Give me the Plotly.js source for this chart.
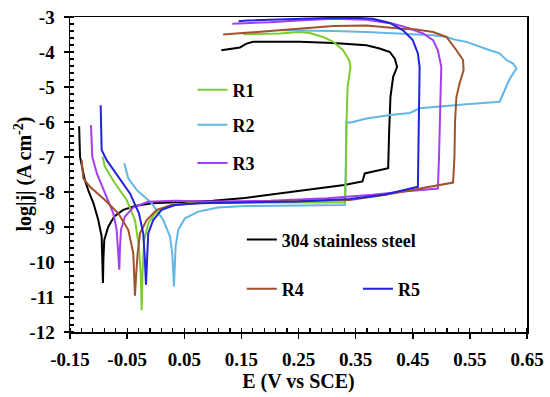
<!DOCTYPE html>
<html>
<head>
<meta charset="utf-8">
<script src="https://cdn.plot.ly/plotly-3.0.1.min.js"></script>
<style>
html,body{margin:0;padding:0;background:#fff;}
#chart{width:550px;height:397px;}
</style>
</head>
<body>
<div id="chart"></div>
<script>
// Series names
const seriesNames = ["304 stainless steel", "R1", "R2", "R3", "R4", "R5"];

// 304 stainless steel
const ssE = [-0.134,-0.1335,-0.1325,-0.128,-0.124,-0.117,-0.109,-0.1005,-0.0946,-0.0935,-0.0923,-0.0915,-0.090,-0.083,-0.0725,-0.0567,-0.036,-0.007,0.034,0.1,0.156,0.21,0.27,0.33,0.362,0.364,0.366,0.385,0.407,0.4086,0.411,0.4157,0.4226,0.4186,0.41,0.392,0.369,0.311,0.252,0.194,0.1707,0.159,0.1474,0.115];
const ssJ = [-6.12,-6.6,-6.99,-7.35,-7.66,-8.0,-8.32,-8.80,-9.27,-9.9,-10.6,-9.9,-9.37,-8.99,-8.70,-8.51,-8.40,-8.32,-8.30,-8.25,-8.17,-8.05,-7.93,-7.80,-7.70,-7.6,-7.47,-7.40,-7.32,-6.3,-5.28,-4.71,-4.43,-4.19,-4.0,-3.90,-3.81,-3.74,-3.71,-3.71,-3.71,-3.76,-3.87,-3.95];

// R1
const r1E = [-0.093,-0.0888,-0.080,-0.0713,-0.0508,-0.0363,-0.0293,-0.026,-0.0246,-0.023,-0.02,-0.013,-0.0013,0.022,0.06,0.12,0.2,0.28,0.331,0.333,0.334,0.336,0.338,0.341,0.3386,0.328,0.311,0.293,0.27,0.252,0.217,0.165,0.153];
const r1J = [-6.99,-7.28,-7.52,-7.75,-8.23,-8.80,-9.56,-10.4,-11.38,-10.3,-9.37,-8.89,-8.61,-8.40,-8.32,-8.30,-8.30,-8.30,-8.30,-7.5,-6.0,-5.0,-4.7,-4.43,-4.23,-3.95,-3.71,-3.57,-3.46,-3.43,-3.47,-3.49,-3.49];

// R2
const r2E = [-0.055,-0.048,-0.0333,-0.007,0.0132,0.025,0.029,0.031,0.032,0.0335,0.0349,0.0395,0.0512,0.0745,0.1094,0.156,0.22,0.28,0.331,0.332,0.333,0.334,0.34,0.369,0.41,0.445,0.462,0.497,0.544,0.602,0.611,0.62,0.6315,0.6256,0.614,0.602,0.585,0.5615,0.544,0.5265,0.509,0.4856,0.427,0.369,0.311,0.252,0.22];
const r2J = [-7.18,-7.61,-7.94,-8.32,-8.80,-9.27,-9.75,-10.2,-10.70,-10.1,-9.56,-9.08,-8.75,-8.56,-8.44,-8.40,-8.39,-8.38,-8.37,-8.0,-7.0,-6.0,-6.02,-5.90,-5.80,-5.74,-5.61,-5.55,-5.49,-5.42,-5.09,-4.76,-4.47,-4.33,-4.23,-4.04,-3.95,-3.81,-3.71,-3.66,-3.57,-3.52,-3.47,-3.43,-3.40,-3.38,-3.38];

// R3
const r3E = [-0.1133,-0.112,-0.111,-0.103,-0.0888,-0.0742,-0.0683,-0.066,-0.0637,-0.0625,-0.0608,-0.0538,-0.0392,-0.013,0.0336,0.1,0.2,0.3,0.38,0.44,0.494,0.496,0.497,0.499,0.5,0.494,0.4856,0.468,0.445,0.4157,0.369,0.311,0.25,0.2,0.134];
const r3J = [-6.09,-6.6,-6.99,-7.47,-8.04,-8.61,-9.08,-9.6,-10.22,-9.6,-9.08,-8.70,-8.44,-8.28,-8.25,-8.27,-8.25,-8.18,-8.08,-7.98,-7.90,-7.0,-6.0,-5.0,-4.43,-3.95,-3.66,-3.47,-3.33,-3.19,-3.08,-3.05,-3.10,-3.15,-3.19];

// R4
const r4E = [-0.1296,-0.1267,-0.115,-0.0888,-0.0655,-0.048,-0.0392,-0.0375,-0.0363,-0.034,-0.0316,-0.0275,-0.0158,0.0017,0.0279,0.0745,0.15,0.25,0.34,0.402,0.4635,0.5206,0.523,0.524,0.5265,0.532,0.539,0.538,0.5265,0.509,0.4856,0.4565,0.427,0.369,0.311,0.252,0.194,0.118];
const r4J = [-7.09,-7.61,-7.85,-8.23,-8.61,-9.08,-9.75,-10.4,-10.96,-10.3,-9.75,-9.18,-8.80,-8.51,-8.37,-8.32,-8.30,-8.27,-8.23,-8.08,-7.90,-7.73,-7.0,-6.0,-5.28,-4.90,-4.52,-4.23,-3.95,-3.57,-3.43,-3.36,-3.33,-3.24,-3.26,-3.33,-3.40,-3.50];

// R5
const r5E = [-0.0963,-0.0955,-0.0946,-0.0858,-0.0655,-0.045,-0.0293,-0.0218,-0.019,-0.017,-0.015,-0.013,-0.0043,0.0104,0.0337,0.0745,0.15,0.25,0.34,0.40,0.459,0.460,0.461,0.462,0.459,0.45,0.433,0.41,0.38,0.35,0.3,0.25,0.2,0.16,0.145];
const r5J = [-5.52,-6.2,-6.80,-7.09,-7.56,-8.04,-8.61,-9.18,-9.9,-10.65,-9.9,-9.18,-8.80,-8.51,-8.37,-8.32,-8.30,-8.27,-8.20,-8.08,-7.85,-7.0,-6.0,-4.43,-4.04,-3.66,-3.38,-3.17,-3.05,-3.02,-3.03,-3.05,-3.08,-3.10,-3.12];

// Axis tick values and labels
const xTicks = [-0.15,-0.05,0.05,0.15,0.25,0.35,0.45,0.55,0.65];
const xTickText = ["-0.15","-0.05","0.05","0.15","0.25","0.35","0.45","0.55","0.65"];
const yTicks = [-12,-11,-10,-9,-8,-7,-6,-5,-4,-3];
const yTickText = ["-12","-11","-10","-9","-8","-7","-6","-5","-4","-3"];

const colors = {ss:"#000000", r1:"#7ccc2c", r2:"#62b6e6", r3:"#a23ff0", r4:"#a0522d", r5:"#2323dd"};

const fontFam = "Liberation Serif";
function mk(x, y, name, color, legend) {
  return {x:x, y:y, name:name, type:"scatter", mode:"lines",
          line:{color:color, width:2}, legend:legend, hoverinfo:"skip"};
}
const traces = [
  mk(ssE, ssJ, seriesNames[0], colors.ss, "legend4"),
  mk(r2E, r2J, seriesNames[2], colors.r2, "legend2"),
  mk(r1E, r1J, seriesNames[1], colors.r1, "legend"),
  mk(r3E, r3J, seriesNames[3], colors.r3, "legend3"),
  mk(r4E, r4J, seriesNames[4], colors.r4, "legend5"),
  mk(r5E, r5J, seriesNames[5], colors.r5, "legend6")
];

function leg(x, y) {
  return {x:x, y:y, xanchor:"left", yanchor:"middle", bgcolor:"rgba(0,0,0,0)",
          borderwidth:0, font:{family:fontFam, size:18, color:"#000", weight:"bold"},
          itemwidth:30, tracegroupgap:0};
}

const layout = {
  width:550, height:397,
  margin:{l:70, r:22.7, t:16.7, b:64.7},
  paper_bgcolor:"#fff", plot_bgcolor:"#fff",
  font:{family:fontFam, color:"#000"},
  showlegend:true,
  legend: leg(0.268, 0.7677),
  legend2: leg(0.268, 0.6568),
  legend3: leg(0.268, 0.5355),
  legend4: leg(0.376, 0.2925),
  legend5: leg(0.376, 0.1362),
  legend6: leg(0.630, 0.1362),
  xaxis:{
    range:[-0.15,0.65], tickvals:xTicks, ticktext:xTickText,
    showgrid:false, zeroline:false, showline:true, linecolor:"#000", linewidth:1.5, mirror:true,
    ticks:"outside", ticklen:5, tickwidth:1.5, tickcolor:"#000", ticklabelstandoff:5,
    minor:{dtick:0.02, tick0:-0.15, ticks:"inside", ticklen:4, tickwidth:1.2, tickcolor:"#000", showgrid:false},
    tickfont:{family:fontFam, size:19, color:"#000", weight:"bold"},
    title:{text:"E (V vs SCE)", standoff:3, font:{family:fontFam, size:20, color:"#000", weight:"bold"}}
  },
  yaxis:{
    range:[-12,-3], tickvals:yTicks, ticktext:yTickText,
    showgrid:false, zeroline:false, showline:true, linecolor:"#000", linewidth:1.5, mirror:true,
    ticks:"outside", ticklen:5, tickwidth:1.5, tickcolor:"#000", ticklabelstandoff:5,
    minor:{dtick:0.2, tick0:-12, ticks:"inside", ticklen:4, tickwidth:1.2, tickcolor:"#000", showgrid:false},
    tickfont:{family:fontFam, size:19, color:"#000", weight:"bold"}
  },
  annotations:[{
    text:"log|j| (A cm<sup>-2</sup>)", xref:"paper", yref:"paper",
    x:-0.1028, y:0.5, xanchor:"center", yanchor:"middle", textangle:-90, showarrow:false,
    font:{family:fontFam, size:20, color:"#000", weight:"bold"}
  }]
};

Plotly.newPlot("chart", traces, layout, {displayModeBar:false, staticPlot:true});
</script>
</body>
</html>
